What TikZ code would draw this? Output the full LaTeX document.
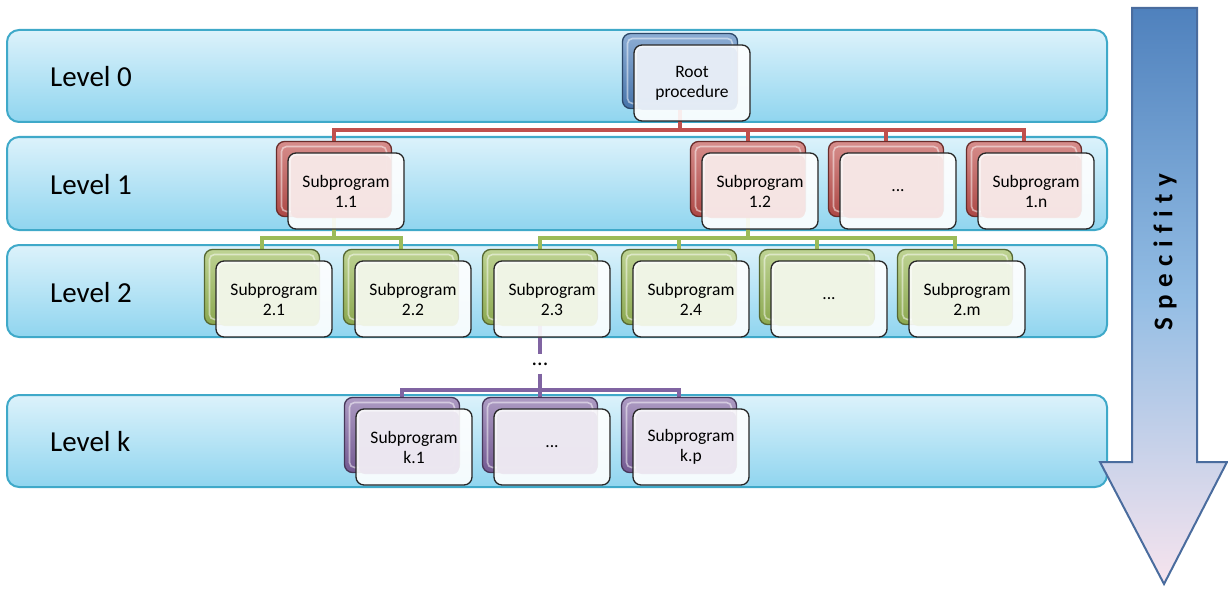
\documentclass[tikz,border=0pt]{standalone}
\usepackage{fontspec}
\setmainfont{Carlito}
\usetikzlibrary{calc}
\definecolor{bandline}{HTML}{3FA9C9}
\definecolor{bandtop}{HTML}{DCF2FB}
\definecolor{bandbot}{HTML}{90D5EF}
\definecolor{blueC}{HTML}{4F81BD}
\definecolor{redC}{HTML}{C0504D}
\definecolor{greenC}{HTML}{9BBB59}
\definecolor{purpleC}{HTML}{8064A2}
\definecolor{arrtop}{HTML}{4F81BD}
\definecolor{arrmid}{HTML}{93BDE4}
\definecolor{arrbot}{HTML}{F7E4EE}
\definecolor{arrline}{HTML}{4A6C9E}
\pgfdeclarelayer{bg}
\pgfdeclarelayer{links}
\pgfsetlayers{bg,links,main}
\tikzset{
  band/.style={rounded corners=12pt, draw=bandline, line width=2pt, top color=bandtop, bottom color=bandbot},
  lvl/.style={anchor=base west, inner sep=0pt, font=\fontsize{29}{34}\selectfont},
  backbox/.style={rounded corners=8pt, minimum width=115pt, minimum height=75pt, inner sep=0pt,
    draw=#1!55!black, line width=1.3pt, top color=#1!65!white, bottom color=#1!90!black,
    path picture={\draw[white, opacity=0.5, line width=1.6pt, rounded corners=5pt]
      ($(path picture bounding box.south west)+(5pt,5pt)$) rectangle ($(path picture bounding box.north east)+(-5pt,-5pt)$);}},
  frontbox/.style={rounded corners=8pt, minimum width=116pt, minimum height=76pt, inner sep=0pt,
    draw=black!85, line width=1.3pt, fill=white, fill opacity=0.9, text opacity=1,
    path picture={\fill[#1!16!white, rounded corners=6pt]
      ($(path picture bounding box.south west)+(3pt,11pt)$) rectangle ($(path picture bounding box.north east)+(-13pt,-2.5pt)$);},
    align=center, font=\fontsize{17.5}{20}\selectfont},
  conn/.style={line width=4.6pt, draw=#1},
}
\newcommand\pbox[5]{%
  \node[backbox=#4] (#1b) at (#2,#3) {};
  \node[frontbox=#4] (#1) at (#2+12,#3+12) {#5};
}
\newcommand\spc{\kern7.5pt}
\begin{document}
\begin{tikzpicture}[x=1pt,y=-1pt]
\useasboundingbox (0,0) rectangle (1228,591);
% bands
\begin{pgfonlayer}{bg}
\path[band] (7,30) rectangle (1107,122);
\path[band] (7,137) rectangle (1107,230);
\path[band] (7,245) rectangle (1107,337);
\path[band] (7,395) rectangle (1107,487);
\end{pgfonlayer}
\node[lvl] (l0) at (50,87) {Level 0};
\node[lvl] (l1) at (50,194) {Level 1};
\node[lvl] (l2) at (50,302) {Level 2};
\node[lvl] (lk) at (50,451) {Level k};
% boxes
\pbox{r0}{680}{71}{blueC}{Root\\procedure}
\pbox{s11}{334}{179}{redC}{Subprogram\\1.1}
\pbox{s12}{748}{179}{redC}{Subprogram\\1.2}
\pbox{s1x}{886}{179}{redC}{...}
\pbox{s1n}{1024}{179}{redC}{Subprogram\\1.n}
\pbox{s21}{262}{287}{greenC}{Subprogram\\2.1}
\pbox{s22}{401}{287}{greenC}{Subprogram\\2.2}
\pbox{s23}{540}{287}{greenC}{Subprogram\\2.3}
\pbox{s24}{679}{287}{greenC}{Subprogram\\2.4}
\pbox{s2x}{817}{287}{greenC}{...}
\pbox{s2m}{955}{287}{greenC}{Subprogram\\2.m}
\pbox{sk1}{402}{435}{purpleC}{Subprogram\\k.1}
\pbox{skx}{540}{435}{purpleC}{...}
\pbox{skp}{679}{435}{purpleC}{Subprogram\\k.p}
\node[font=\fontsize{22}{24}\selectfont, inner sep=0pt] (dots) at (540,364) {...};
% junctions
\coordinate (j0) at (0,130);
\coordinate (j1) at (0,238);
\coordinate (jk) at (0,390);
\begin{pgfonlayer}{links}
\draw[conn=redC] (r0b.south) -- (r0b.south |- j0);
\draw[conn=redC] (s11b.north) |- (s1nb.north |- j0) -- (s1nb.north);
\draw[conn=redC] (s12b.north) -- (s12b.north |- j0);
\draw[conn=redC] (s1xb.north) -- (s1xb.north |- j0);
\draw[conn=greenC] (s11b.south) -- (s11b.south |- j1);
\draw[conn=greenC] (s21b.north) |- (s22b.north |- j1) -- (s22b.north);
\draw[conn=greenC] (s12b.south) -- (s12b.south |- j1);
\draw[conn=greenC] (s23b.north) |- (s2mb.north |- j1) -- (s2mb.north);
\draw[conn=greenC] (s24b.north) -- (s24b.north |- j1);
\draw[conn=greenC] (s2xb.north) -- (s2xb.north |- j1);
\draw[conn=purpleC] (s23b.south) -- ($(dots.north)+(0,-8)$);
\draw[conn=purpleC] ($(dots.south)+(0,8)$) -- (dots.south |- jk);
\draw[conn=purpleC] (sk1b.north) |- (skpb.north |- jk) -- (skpb.north);
\draw[conn=purpleC] (skxb.north) -- (skxb.north |- jk);
\end{pgfonlayer}
% arrow
\path[draw=arrline, line width=2pt, line join=miter, top color=arrtop, bottom color=arrbot, middle color=arrmid]
  (1132,8) -- (1197,8) -- (1197,462) -- (1227,462) -- (1164,584) -- (1100,462) -- (1132,462) -- cycle;
\node[rotate=90, font=\fontsize{27}{30}\selectfont\bfseries, inner sep=0pt] (spec) at (1165,252)
  {S\spc p\spc e\spc c\spc i\spc f\spc i\spc t\spc y};
\end{tikzpicture}
\end{document}
